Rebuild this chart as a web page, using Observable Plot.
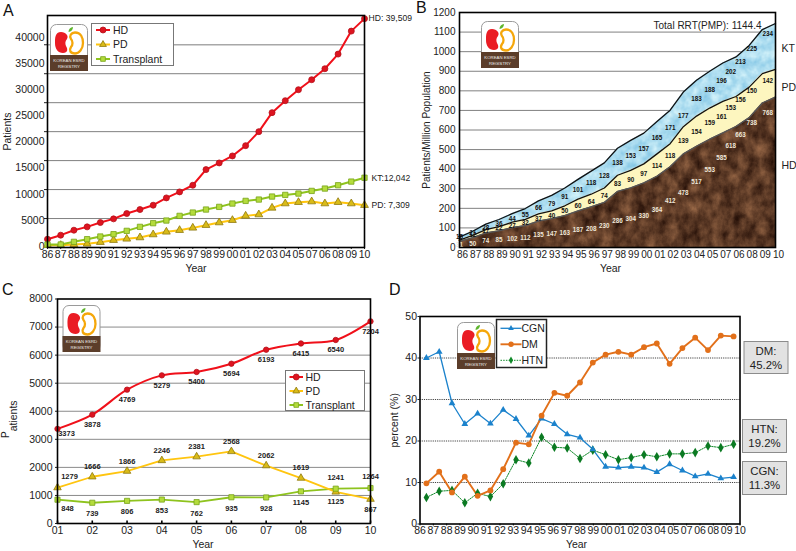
<!DOCTYPE html>
<html>
<head>
<meta charset="utf-8">
<script src="https://cdn.jsdelivr.net/npm/d3@7"></script>
<script src="https://cdn.jsdelivr.net/npm/@observablehq/plot@0.6"></script>
<style>
html,body{margin:0;padding:0;background:#fff;}
#page{position:relative;width:796px;height:551px;overflow:hidden;font-family:"Liberation Sans",Arial,sans-serif;}
#page>*{position:absolute;}
</style>
</head>
<body>
<div id="page"></div>
<script>
// ---------- data ----------
const years = ["86","87","88","89","90","91","92","93","94","95","96","97","98","99","00","01","02","03","04","05","07","06","08","09","10"];
const recentYears = ["01","02","03","04","05","06","07","08","09","10"];

// A: prevalent patients
const aHD = [1437,2126,2988,3563,4310,4942,5862,6552,7299,8563,9598,10747,13448,14598,15804,17586,20000,23276,25345,27241,28965,30862,33390,37356,39509];
const aPD = [400,400,517,632,920,1264,1494,1724,2241,2701,2988,3391,3851,4310,4713,5460,5690,6839,7586,7816,7931,7586,7816,7586,7309];
const aKT = [517,517,977,1437,1897,2299,2874,3563,4195,4655,5460,6034,6552,7011,7586,8046,8276,8793,9080,9310,9770,10172,10747,11379,12042];
const aYTicks = [5000,10000,15000,20000,25000,30000,35000];
const aYLabels = [0,5000,10000,15000,20000,25000,30000,35000,40000];
const aEnds = ["HD: 39,509","KT:12,042","PD: 7,309"];

// B: patients per million population
const bHD = [31,50,74,85,102,112,135,147,163,187,208,230,286,304,330,364,412,478,517,553,585,618,663,738,768];
const bPD = [7,12,17,22,27,32,37,40,50,60,64,74,83,90,97,114,118,139,154,159,161,153,156,150,142];
const bKT = [15,21,28,36,44,55,66,79,91,101,118,128,138,153,157,165,171,177,183,188,196,202,213,225,234];
const bHDLevel = [12,20,31,37,46,49,63,68,75,87,97,111,138,148,160,194,237,276,336,395,455,518,577,635,688];
const bPDLevel = [42,62,85,100,111,126,145,162,184,211,235,262,324,344,377,416,468,542,589,635,664,712,753,797,852];
const bKTLevel = [52,74,100,118,146,168,201,223,256,293,327,365,433,469,503,557,612,670,760,802,848,896,945,1012,1088];
const bLabelDrift = [0,0,0,0,0,0,0,0,0,0,0,0,0,0,0,0,0,0,0,0,-0.1,-0.4,-0.65,-0.8,-0.58];
const bYTicks = [0,100,200,300,400,500,600,700,800,900,1000,1100,1200];
const bBands = ["KT","PD","HD"];
const bBandLevels = [1018,818,418];
const bTotal = "Total RRT(PMP): 1144.4";

// C: incident patients
const cHD = [3373,3878,4769,5279,5400,5694,6193,6415,6540,7204];
const cPD = [1279,1666,1866,2246,2381,2568,2062,1619,1125,867];
const cKT = [848,739,806,853,762,935,928,1145,1241,1264];
const cYTicks = [0,1000,2000,3000,4000,5000,6000,7000,8000];

// D: primary renal disease share
const dCGN = [40.0,41.5,29.1,24.1,26.6,24.2,27.5,25.3,21.3,25.4,24.1,21.6,20.8,18.0,13.8,13.6,13.8,13.6,12.5,14.4,12.9,11.5,12.1,11.0,11.3];
const dDM = [9.8,12.6,7.6,11.4,6.8,8.1,13.2,19.6,19.2,26.1,31.6,30.9,34.1,38.9,40.8,41.5,40.8,42.6,43.5,38.6,42.4,44.9,41.9,45.4,45.2];
const dHTN = [6.4,7.9,8.1,5.1,7.4,6.6,9.7,15.5,14.7,20.9,18.5,18.3,15.8,17.8,16.7,15.5,16.0,16.7,16.2,16.9,16.9,17.2,18.8,18.4,19.2];
const dYTicks = [0,10,20,30,40,50];
const dGrid = [10,20,30,40];
const dCallouts = [["DM:","45.2%"],["HTN:","19.2%"],["CGN:","11.3%"]];

const legendAC = ["HD","PD","Transplant"];
const legendD = ["CGN","DM","HTN"];
const letters = ["A","B","C","D"];
const logoText = ["KOREAN ESRD","REGISTRY"];

// ---------- styles ----------
const FONT = '"Liberation Sans",Arial,sans-serif';
const RED = "#f0101a", YEL = "#ffc50f", LIME = "#8ec31e";
const page = document.getElementById("page");

// Textures for panel B
const defs = document.createElementNS("http://www.w3.org/2000/svg","svg");
defs.setAttribute("width",0); defs.setAttribute("height",0);
defs.innerHTML = `<defs>
<filter id="fBrown" x="0" y="0" width="100%" height="100%" color-interpolation-filters="sRGB">
<feTurbulence type="fractalNoise" baseFrequency="0.09 0.07" numOctaves="5" seed="4"/>
<feColorMatrix values="0.55 0 0 0 0.09  0.42 0 0 0 0.02  0.3 0 0 0 0  0 0 0 0 1"/></filter>
<filter id="fBlue" x="0" y="0" width="100%" height="100%" color-interpolation-filters="sRGB">
<feTurbulence type="fractalNoise" baseFrequency="0.1" numOctaves="3" seed="9"/>
<feColorMatrix values="0.45 0 0 0 0.45  0.25 0 0 0 0.74  0.12 0 0 0 0.88  0 0 0 0 1"/></filter>
<pattern id="tBrown" patternUnits="userSpaceOnUse" width="800" height="560"><rect width="800" height="560" filter="url(#fBrown)"/></pattern>
<pattern id="tBlue" patternUnits="userSpaceOnUse" width="800" height="560"><rect width="800" height="560" filter="url(#fBlue)"/></pattern>
</defs>`;
page.appendChild(defs);

// box is the svg's place on the page, frame the plotting area on the page.
function panel(box, frame, opts, marks){
  const p = Plot.plot({
    width: box.w, height: box.h,
    marginLeft: frame.x0-box.x, marginRight: box.x+box.w-frame.x1,
    marginTop: frame.y0-box.y, marginBottom: box.y+box.h-frame.y1,
    style:{fontFamily:FONT,fontSize:"10.5px",color:"#222",background:"transparent",overflow:"visible"},
    ...opts, marks
  });
  p.style.left = box.x+"px"; p.style.top = box.y+"px";
  page.appendChild(p);
}
const idx = a => a.map((_,i)=>i);
const seriesLine = (a,stroke,strokeWidth,extra={}) => Plot.line(a,{x:(_,i)=>i,y:d=>d,stroke,strokeWidth,...extra});
const seriesDots = (a,symbol,r,fill,stroke,extra={}) => Plot.dot(a,{x:(_,i)=>i,y:d=>d,symbol,r,fill,stroke,strokeWidth:.8,...extra});
const yearTitle = (dx,dy) => Plot.text(["Year"],{frameAnchor:"bottom",lineAnchor:"middle",dx,dy,text:d=>d,fontSize:10.5});

// ---------- A ----------
panel({x:0,y:0,w:420,h:275},{x0:47,x1:364,y0:15,y1:247},
  {x:{domain:[0,24]},y:{domain:[0,40050]}},
  [
    Plot.ruleY(aYTicks.slice(0,6),{stroke:"#808080",strokeWidth:1}),
    Plot.ruleY(aYTicks.slice(6),{stroke:"#a8a8a8",strokeWidth:1.3}),
    Plot.axisX({ticks:idx(years),tickFormat:d=>years[d],tickSize:2,tickPadding:1,label:null,fontSize:10.5}),
    Plot.axisY({ticks:aYTicks,tickSize:3,tickFormat:()=>"",label:"Patients",labelAnchor:"center",labelArrow:"none",labelOffset:44,fontSize:10.5}),
    Plot.text(aYLabels,{y:d=>d*0.902,frameAnchor:"left",dx:-3,dy:-1,textAnchor:"end",text:d=>String(d),fontSize:10.5}),
    yearTitle(-10,21),
    seriesLine(aHD,RED,2), seriesLine(aPD,YEL,2), seriesLine(aKT,LIME,2),
    seriesDots(aHD,"circle",3,"#dd1420","#b5121a"),
    seriesDots(aPD,"triangle",2.9,"#d9bb18","#8f7a10"),
    seriesDots(aKT,"square",3,"#b4dc3c","#77a31a"),
    Plot.text([aEnds[0]],{x:24,y:aHD[24],dx:4,textAnchor:"start",text:d=>d,fontSize:8.6,fill:"#222"}),
    Plot.text([aEnds[1]],{x:24,y:aKT[24],dx:7,textAnchor:"start",text:d=>d,fontSize:8.6,fill:"#222"}),
    Plot.text([aEnds[2]],{x:24,y:aPD[24],dx:7,textAnchor:"start",text:d=>d,fontSize:8.6,fill:"#222"}),
    Plot.frame({stroke:"#000",strokeWidth:1.6})
  ]);

// ---------- B ----------
const bRows = years.map((_,i)=>({i,y1:bHD[i],y2:bHD[i]+bPD[i],y3:bHD[i]+bPD[i]+bKT[i]}));
const bText = (vals,levels,fill) => Plot.text(vals,{x:(_,i)=>i+bLabelDrift[i],y:(_,i)=>levels[i],text:d=>String(d),fill,fontSize:6.3,fontWeight:"bold"});
panel({x:412,y:0,w:384,h:275},{x0:459,x1:775,y0:12,y1:247},
  {x:{domain:[0,24]},y:{domain:[0,1200]}},
  [
    Plot.ruleY(bYTicks,{stroke:"#808080",strokeWidth:1}),
    Plot.areaY(bRows,{x:"i",y1:"y2",y2:"y3",fill:"url(#tBlue)"}),
    Plot.areaY(bRows,{x:"i",y1:"y1",y2:"y2",fill:"#fdf6bf"}),
    Plot.areaY(bRows,{x:"i",y1:0,y2:"y1",fill:"url(#tBrown)"}),
    Plot.line(bRows,{x:"i",y:"y1",stroke:"#555",strokeWidth:1.3}),
    Plot.line(bRows,{x:"i",y:"y2",stroke:"#111",strokeWidth:1.3}),
    Plot.line(bRows,{x:"i",y:"y3",stroke:"#111",strokeWidth:1.3}),
    bText(bHD,bHDLevel,"#efe6d8"),
    bText(bPD,bPDLevel,"#111"),
    bText(bKT,bKTLevel,"#111"),
    Plot.axisX({ticks:idx(years),tickFormat:d=>years[d],tickSize:0,tickPadding:3,dx:3,label:null,fontSize:10}),
    Plot.axisY({ticks:bYTicks,tickFormat:d=>String(d),tickSize:0,tickPadding:4,label:"Patients/Million Population",labelAnchor:"center",labelArrow:"none",labelOffset:37,fontSize:10}),
    yearTitle(-7,21),
    Plot.text([bTotal],{frameAnchor:"top-right",dx:-14,dy:9,text:d=>d,fontSize:10,textAnchor:"end"}),
    Plot.text(bBands,{frameAnchor:"right",dx:6,y:(_,i)=>bBandLevels[i],textAnchor:"start",text:d=>d,fontSize:10.5}),
    Plot.frame({stroke:"#000",strokeWidth:1.6})
  ]);

// ---------- C ----------
const cLabels = (a,filter,dy,fill="#222") => Plot.text(idx(a).filter(filter),{x:d=>d,y:d=>a[d],text:d=>String(a[d]),dy,fontSize:7.5,fontWeight:"bold",fill});
panel({x:0,y:275,w:400,h:276},{x0:57,x1:370,y0:298.5,y1:523},
  {x:{domain:[0,9]},y:{domain:[0,8000]}},
  [
    Plot.ruleY(cYTicks.slice(1,8),{stroke:"#8a8a8a",strokeWidth:1}),
    Plot.ruleX(idx(recentYears),{y1:0,y2:90,stroke:"#000",strokeWidth:1.6}),
    Plot.axisX({ticks:idx(recentYears),tickFormat:d=>recentYears[d],tickSize:0,tickPadding:3,label:null,fontSize:10.5}),
    Plot.axisY({ticks:cYTicks,tickFormat:d=>String(d),tickSize:2,tickPadding:3,label:null,fontSize:10.5}),
    yearTitle(-11,20.7),
    seriesLine(cKT,LIME,1.8), seriesLine(cPD,YEL,1.8),
    seriesLine(cHD,RED,2,{curve:"catmull-rom"}),
    seriesDots(cHD,"circle",2.7,"#dd1420","#b5121a"),
    seriesDots(cPD,"triangle",2.8,"#d9bb18","#8f7a10"),
    seriesDots(cKT,"square",2.9,"#b4dc3c","#77a31a"),
    Plot.text([0],{x:d=>d,y:cHD[0],text:()=>String(cHD[0]),dx:9,dy:5,fontSize:7.5,fontWeight:"bold",fill:"#222"}),
    cLabels(cHD,i=>i>0,10),
    Plot.text([0],{x:d=>d,y:cPD[0],text:()=>String(cPD[0]),dx:12,dy:-11,fontSize:7.5,fontWeight:"bold",fill:"#222"}),
    cLabels(cPD,i=>i>0&&i<8,-10),
    cLabels(cPD,i=>i>=8,10),
    Plot.text([0],{x:d=>d,y:cKT[0],text:()=>String(cKT[0]),dx:10,dy:9,fontSize:7.5,fontWeight:"bold",fill:"#222"}),
    cLabels(cKT,i=>i>0&&i<8,11),
    cLabels(cKT,i=>i>=8,-11),
    Plot.frame({stroke:"#000",strokeWidth:1.6})
  ]);

// ---------- D ----------
const dStep = 25/24;
const dX = (_,i)=>i+0.5;
panel({x:385,y:275,w:411,h:276},{x0:419.5,x1:739.5,y0:316,y1:523.5},
  {x:{domain:[0,25]},y:{domain:[0,50]}},
  [
    Plot.ruleY(dGrid,{stroke:"#444",strokeWidth:1,strokeDasharray:"1.2,1"}),
    Plot.axisX({ticks:idx(years).map(i=>i*dStep),tickFormat:d=>years[Math.round(d/dStep)],tickSize:2,tickPadding:1,label:null,fontSize:10.5}),
    Plot.axisY({ticks:dYTicks,tickSize:2,tickPadding:1,label:"percent (%)",labelAnchor:"center",labelArrow:"none",labelOffset:29,fontSize:10.5}),
    yearTitle(-3.5,20.2),
    Plot.line(dHTN,{x:dX,y:d=>d,stroke:"#118a2a",strokeWidth:1,strokeDasharray:"1.5,1.2"}),
    Plot.line(dCGN,{x:dX,y:d=>d,stroke:"#1b82cc",strokeWidth:1.3}),
    Plot.line(dDM,{x:dX,y:d=>d,stroke:"#e2701a",strokeWidth:1.9}),
    Plot.dot(dHTN,{x:dX,y:d=>d,symbol:"diamond",r:2.9,fill:"#0b7a22"}),
    Plot.dot(dCGN,{x:dX,y:d=>d,symbol:"triangle",r:2.5,fill:"#1b82cc"}),
    Plot.dot(dDM,{x:dX,y:d=>d,r:2.9,fill:"#e2701a"}),
    Plot.frame({stroke:"#000",strokeWidth:1.6})
  ]);

// ---------- overlay: letters, logos, legends, callouts ----------
const sym = (t,s)=>d3.symbol(t,s)();
function logo(x,y){
  return `<g transform="translate(${x},${y})">
  <rect x=".5" y=".5" width="37" height="46" rx="6" fill="#fff" stroke="#9a9a9a"/>
  <path d="M0 31H38V47H0Z" fill="#5b3d2a"/>
  <path d="M11 8C5 8 5 14 5 19C5 25 8 29 13 29C18 29 18 25 16 22C15 20 15 17 17 15C19 12 16 8 11 8Z" fill="#ea1c24"/>
  <path d="M25 8.5C31 8.5 33 14 33 19C33 25 29 29.5 25 29.5C20 29.5 19 26 21 23C23 21 23 17 21 15C19 12 21 8.5 25 8.5Z" fill="#fff" stroke="#f5a70a" stroke-width="2.3"/>
  <path d="M18.5 8C18.5 5 20.5 3.5 23 3C23 6 21 7.5 18.5 8Z" fill="#5db52c"/>
  <text x="19" y="37.8" text-anchor="middle" font-size="4.3" fill="#eee" font-family='${FONT}'>${logoText[0]}</text>
  <text x="19" y="44" text-anchor="middle" font-size="4.3" fill="#eee" font-family='${FONT}'>${logoText[1]}</text></g>`;
}
function legendAC_(x,y,w,h,rowsY,lx0,lx1,tx){
  const st=[[RED,d3.symbolCircle,28,"#dd1420","#b5121a"],[YEL,d3.symbolTriangle,20,"#d9bb18","#8f7a10"],[LIME,d3.symbolSquare,22,"#b4dc3c","#77a31a"]];
  let s=`<rect x="${x}" y="${y}" width="${w}" height="${h}" fill="#fff" stroke="#777" stroke-width="1"/>`;
  legendAC.forEach((t,i)=>{
    const cy=rowsY[i],cx=(lx0+lx1)/2;
    s+=`<line x1="${lx0}" x2="${lx1}" y1="${cy}" y2="${cy}" stroke="${st[i][0]}" stroke-width="2"/>
    <path transform="translate(${cx},${cy})" d="${sym(st[i][1],st[i][2])}" fill="${st[i][3]}" stroke="${st[i][4]}" stroke-width=".8"/>
    <text x="${tx}" y="${cy+3.7}" font-size="10.5" fill="#222" font-family='${FONT}'>${t}</text>`;
  });
  return s;
}
function legendD_(x,y,w,h){
  const ys=[328.3,344.3,360.3];
  const st=[["#1b82cc",d3.symbolTriangle,14,1.3,""],["#e2701a",d3.symbolCircle,24,1.9,""],["#118a2a",d3.symbolDiamond,16,1,"1.5,1.2"]];
  let s=`<rect x="${x}" y="${y}" width="${w}" height="${h}" fill="#fff" stroke="#222" stroke-width="1.5"/>`;
  legendD.forEach((t,i)=>{
    const cy=ys[i],cx=x+14.5;
    s+=`<line x1="${x+4}" x2="${x+25}" y1="${cy}" y2="${cy}" stroke="${st[i][0]}" stroke-width="${st[i][3]}" stroke-dasharray="${st[i][4]}"/>
    <path transform="translate(${cx},${cy})" d="${sym(st[i][1],st[i][2])}" fill="${st[i][0]}"/>
    <text x="${x+25}" y="${cy+3.7}" font-size="10.5" fill="#222" font-family='${FONT}'>${t}</text>`;
  });
  return s;
}
function callout(x,y,w,h,lines){
  return `<rect x="${x}" y="${y}" width="${w}" height="${h}" fill="#e2e2e2" stroke="#8c8c8c" stroke-width="1"/>
  <text x="${x+w/2}" y="${y+13.5}" text-anchor="middle" font-size="11.4" fill="#222" font-family='${FONT}'>${lines[0]}</text>
  <text x="${x+w/2}" y="${y+27.5}" text-anchor="middle" font-size="11.4" fill="#222" font-family='${FONT}'>${lines[1]}</text>`;
}
const letterAt=[[3,16],[416,13],[2,295],[389,295]];
const ov=document.createElementNS("http://www.w3.org/2000/svg","svg");
ov.setAttribute("width",796); ov.setAttribute("height",551);
ov.style.left="0"; ov.style.top="0";
ov.innerHTML = letters.map((t,i)=>`<text x="${letterAt[i][0]}" y="${letterAt[i][1]}" font-size="16" fill="#111" font-family='${FONT}'>${t}</text>`).join("")
 + logo(50,24) + logo(481,21) + logo(62.5,305) + logo(457,322)
 + legendAC_(91.5,23.5,82,42,[30,44.5,59],96,110,113)
 + legendAC_(285.5,370.5,79,40,[377,391,405],289.5,303,305.5)
 + legendD_(496.5,319.5,50,48)
 + callout(744,341.5,44,32,dCallouts[0]) + callout(742.5,419.5,44,33,dCallouts[1]) + callout(742.5,461.5,44,33,dCallouts[2])
 + `<text transform="translate(9,438) rotate(-90)" fill="#222" font-size="10" font-family='${FONT}'>P<tspan dx="0" dy="8" font-size="10.5">atients</tspan></text>`
;
page.appendChild(ov);
</script>
</body>
</html>
